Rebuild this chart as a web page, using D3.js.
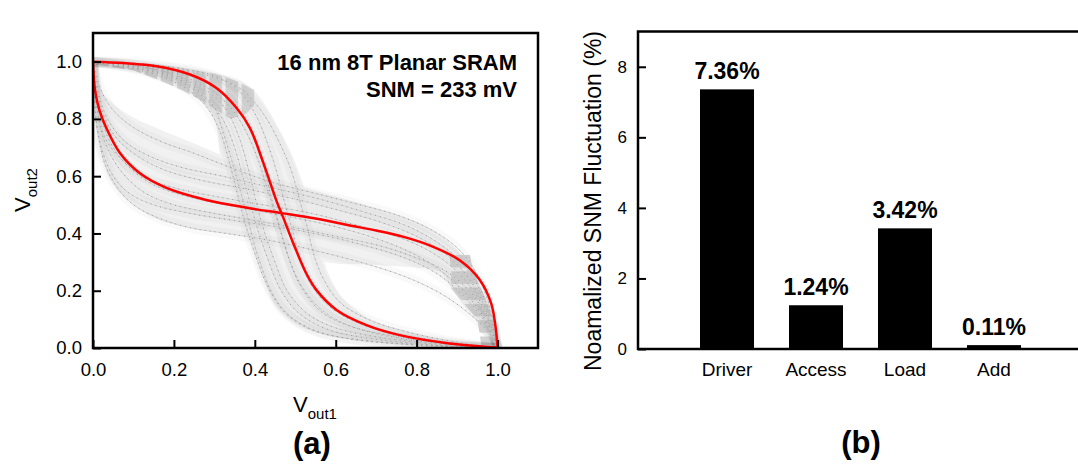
<!DOCTYPE html>
<html>
<head>
<meta charset="utf-8">
<script src="https://cdn.jsdelivr.net/npm/d3@7"></script>
<style>
  body { margin: 0; background: #fff; }
  svg text { font-family: "Liberation Sans", Arial, sans-serif; fill: #000; }
</style>
</head>
<body>
<svg id="fig" width="1078" height="466"></svg>
<script>
// ---- panel (a): butterfly curves, [Vout1, Vout2] ----
const axisTicksA = [0, 0.2, 0.4, 0.6, 0.8, 1.0];

// nominal curves (red)
const nominalA = [[0,1],[0.075,0.995],[0.157,0.984],[0.24,0.955],[0.305,0.908],[0.355,0.838],[0.388,0.768],
  [0.42,0.651],[0.454,0.512],[0.466,0.471],[0.495,0.366],[0.527,0.261],[0.552,0.203],[0.602,0.133],
  [0.676,0.08],[0.758,0.045],[0.881,0.016],[0.993,0.002],[1,0]];
const nominalB = [[0,1],[0.005,0.9],[0.016,0.83],[0.034,0.765],[0.067,0.68],[0.116,0.61],[0.18,0.56],
  [0.28,0.517],[0.388,0.488],[0.466,0.471],[0.55,0.452],[0.635,0.428],[0.7,0.41],[0.768,0.388],
  [0.838,0.355],[0.908,0.305],[0.955,0.24],[0.984,0.157],[0.995,0.075],[1,0]];

// spread of the Monte Carlo runs (grey cloud edges)
const spreadARight = [[0,1],[0.1,0.997],[0.2,0.985],[0.3,0.96],[0.37,0.93],[0.41,0.88],[0.45,0.79],[0.49,0.68],
  [0.515,0.59],[0.535,0.5],[0.55,0.41],[0.565,0.33],[0.585,0.25],[0.62,0.17],[0.68,0.105],[0.77,0.06],[0.88,0.022],[1,0]];
const spreadALeft = [[0,1],[0.1,0.97],[0.18,0.925],[0.26,0.87],[0.3,0.8],[0.314,0.675],[0.33,0.58],[0.35,0.5],
  [0.37,0.44],[0.385,0.4],[0.4,0.33],[0.42,0.25],[0.45,0.15],[0.5,0.085],[0.56,0.05],[0.65,0.028],[0.8,0.01],[1,0]];
const spreadBUpper = [[0,1],[0.02,0.9],[0.075,0.826],[0.157,0.768],[0.24,0.72],[0.314,0.675],[0.4,0.62],[0.5,0.57],
  [0.6,0.53],[0.7,0.49],[0.765,0.46],[0.83,0.42],[0.88,0.37],[0.92,0.31],[0.95,0.24],[0.975,0.15],[0.993,0.06],[1,0]];
const spreadBLower = [[0,1],[0.004,0.85],[0.012,0.74],[0.03,0.63],[0.06,0.55],[0.1,0.5],[0.15,0.455],[0.24,0.418],
  [0.33,0.4],[0.42,0.38],[0.5,0.35],[0.577,0.3],[0.7,0.29],[0.8,0.28],[0.86,0.265],[0.885,0.21],[0.915,0.15],
  [0.945,0.1],[0.965,0.045],[1,0]];

// dense striped parts of the cloud
const denseA = [[0.005,1.0],[0.1,0.996],[0.2,0.982],[0.3,0.958],[0.36,0.93],[0.4,0.9],[0.4,0.85],[0.38,0.82],
  [0.34,0.8],[0.3,0.835],[0.26,0.87],[0.22,0.9],[0.18,0.925],[0.1,0.97],[0.005,0.99]];
const denseB = [[0.88,0.335],[0.93,0.335],[0.94,0.27],[0.958,0.21],[0.978,0.15],[0.988,0.1],[0.995,0.04],
  [0.995,0.01],[0.96,0.01],[0.95,0.1],[0.92,0.15],[0.885,0.21],[0.886,0.267]];

// a few individual runs
const runsA = [
  [[0,1],[0.1,0.975],[0.2,0.93],[0.27,0.86],[0.31,0.77],[0.335,0.66],[0.355,0.55],[0.375,0.44],[0.4,0.33],[0.43,0.22],[0.47,0.13],[0.53,0.07],[0.62,0.035],[0.8,0.01],[1,0]],
  [[0,1],[0.1,0.985],[0.2,0.95],[0.28,0.9],[0.33,0.83],[0.36,0.74],[0.385,0.62],[0.405,0.5],[0.425,0.4],[0.45,0.3],[0.48,0.2],[0.53,0.12],[0.6,0.07],[0.72,0.035],[0.88,0.01],[1,0]],
  [[0,1],[0.1,0.99],[0.2,0.965],[0.29,0.92],[0.35,0.85],[0.39,0.76],[0.42,0.64],[0.44,0.53],[0.46,0.43],[0.48,0.33],[0.51,0.23],[0.56,0.14],[0.63,0.08],[0.75,0.04],[0.9,0.012],[1,0]],
  [[0,0.995],[0.1,0.99],[0.2,0.975],[0.3,0.945],[0.37,0.9],[0.42,0.82],[0.46,0.72],[0.49,0.62],[0.51,0.52],[0.53,0.42],[0.545,0.33],[0.57,0.24],[0.61,0.16],[0.68,0.1],[0.78,0.055],[0.9,0.02],[1,0]],
  [[0,1],[0.1,0.99],[0.2,0.96],[0.28,0.91],[0.34,0.84],[0.38,0.75],[0.41,0.65],[0.43,0.56],[0.45,0.47],[0.47,0.38],[0.49,0.29],[0.52,0.2],[0.57,0.12],[0.66,0.065],[0.8,0.025],[1,0]],
  [[0,1],[0.1,0.98],[0.2,0.94],[0.27,0.88],[0.32,0.8],[0.35,0.7],[0.37,0.6],[0.39,0.5],[0.41,0.4],[0.435,0.3],[0.465,0.2],[0.51,0.12],[0.58,0.065],[0.7,0.03],[0.85,0.01],[1,0]],
  [[0,1],[0.1,0.995],[0.2,0.98],[0.3,0.95],[0.36,0.9],[0.4,0.82],[0.43,0.72],[0.455,0.61],[0.475,0.5],[0.495,0.4],[0.51,0.32],[0.535,0.23],[0.58,0.15],[0.65,0.09],[0.77,0.045],[0.9,0.015],[1,0]],
  [[0,1],[0.1,0.98],[0.2,0.945],[0.26,0.9],[0.3,0.84],[0.32,0.76],[0.34,0.67],[0.36,0.57],[0.38,0.47],[0.395,0.38],[0.415,0.29],[0.44,0.2],[0.48,0.12],[0.55,0.06],[0.68,0.025],[1,0]]
];
const runsB = [
  [[0,1],[0.005,0.85],[0.012,0.75],[0.03,0.64],[0.06,0.56],[0.1,0.5],[0.16,0.455],[0.24,0.42],[0.33,0.4],[0.44,0.375],[0.55,0.34],[0.66,0.3],[0.77,0.25],[0.86,0.19],[0.93,0.12],[0.98,0.05],[1,0]],
  [[0,1],[0.01,0.87],[0.025,0.78],[0.05,0.7],[0.09,0.63],[0.15,0.57],[0.23,0.53],[0.33,0.5],[0.44,0.47],[0.55,0.44],[0.66,0.4],[0.76,0.35],[0.84,0.29],[0.9,0.22],[0.95,0.14],[0.985,0.06],[1,0]],
  [[0,1],[0.02,0.9],[0.05,0.83],[0.1,0.77],[0.17,0.72],[0.25,0.68],[0.34,0.63],[0.44,0.58],[0.55,0.54],[0.66,0.5],[0.76,0.46],[0.84,0.41],[0.9,0.35],[0.94,0.28],[0.97,0.19],[0.99,0.09],[1,0]],
  [[0,1],[0.008,0.86],[0.02,0.76],[0.045,0.67],[0.08,0.6],[0.13,0.54],[0.2,0.5],[0.3,0.47],[0.4,0.445],[0.5,0.42],[0.6,0.39],[0.7,0.36],[0.79,0.32],[0.87,0.27],[0.93,0.2],[0.97,0.12],[0.99,0.05],[1,0]],
  [[0,1],[0.006,0.88],[0.015,0.8],[0.035,0.72],[0.07,0.66],[0.12,0.6],[0.2,0.56],[0.3,0.53],[0.42,0.5],[0.54,0.47],[0.65,0.43],[0.75,0.39],[0.83,0.34],[0.89,0.28],[0.94,0.2],[0.975,0.11],[1,0]],
  [[0,1],[0.01,0.9],[0.03,0.8],[0.06,0.73],[0.11,0.67],[0.18,0.62],[0.27,0.585],[0.38,0.555],[0.5,0.52],[0.61,0.48],[0.71,0.44],[0.8,0.39],[0.87,0.33],[0.92,0.26],[0.96,0.17],[0.985,0.08],[1,0]],
  [[0,1],[0.004,0.86],[0.01,0.77],[0.025,0.68],[0.05,0.6],[0.09,0.54],[0.15,0.5],[0.24,0.47],[0.35,0.445],[0.47,0.42],[0.58,0.39],[0.68,0.355],[0.77,0.315],[0.85,0.26],[0.91,0.19],[0.96,0.11],[0.99,0.04],[1,0]],
  [[0,1],[0.015,0.88],[0.04,0.79],[0.08,0.72],[0.14,0.67],[0.22,0.63],[0.32,0.6],[0.44,0.56],[0.56,0.52],[0.67,0.475],[0.77,0.43],[0.85,0.37],[0.91,0.3],[0.95,0.22],[0.98,0.13],[0.995,0.05],[1,0]]
];

// ---- panel (b): bars ----
const parts = ["Driver", "Access", "Load", "Add"];
const snmFluct = [7.36, 1.24, 3.42, 0.11];
const snmLabels = ["7.36%", "1.24%", "3.42%", "0.11%"];
const axisTicksB = [0, 2, 4, 6, 8];

const svg = d3.select("#fig");
const defs = svg.append("defs");

// ================= panel (a) =================
const x = d3.scaleLinear().domain([0, 1.1]).range([93, 538]);
const y = d3.scaleLinear().domain([0, 1.1]).range([348, 33]);

defs.append("clipPath").attr("id", "clipA")
  .append("rect").attr("x", 93).attr("y", 33).attr("width", 445).attr("height", 315);

// stripes like the dense bundles in the original plot
let pv = defs.append("pattern").attr("id", "stripeV").attr("patternUnits", "userSpaceOnUse")
  .attr("x", 96).attr("y", 0).attr("width", 16.2).attr("height", 20);
pv.append("rect").attr("width", 12.5).attr("height", 20).attr("fill", "#d3d3d3");
let ph = defs.append("pattern").attr("id", "stripeH").attr("patternUnits", "userSpaceOnUse")
  .attr("x", 0).attr("y", 255).attr("width", 20).attr("height", 16.3);
ph.append("rect").attr("width", 20).attr("height", 12.5).attr("fill", "#d3d3d3");

const line = d3.line().x(d => x(d[0])).y(d => y(d[1])).curve(d3.curveCatmullRom.alpha(0.5));
const poly = d3.line().x(d => x(d[0])).y(d => y(d[1])).curve(d3.curveCatmullRomClosed.alpha(0.5));
const flat = d3.line().x(d => x(d[0])).y(d => y(d[1])).curve(d3.curveLinearClosed);

const plotA = svg.append("g").attr("clip-path", "url(#clipA)");

// grey cloud outline fills
plotA.append("path")
  .attr("d", poly(spreadARight.concat(spreadALeft.slice(1, -1).reverse())))
  .attr("fill", "#f1f1f1");
plotA.append("path")
  .attr("d", poly(spreadBUpper.concat(spreadBLower.slice(1, -1).reverse())))
  .attr("fill", "#f1f1f1");

// denser part, a bit darker
plotA.append("path").attr("d", flat(denseA)).attr("fill", "url(#stripeV)");
plotA.append("path").attr("d", flat(denseB)).attr("fill", "url(#stripeH)");

// individual runs: soft wide band + thin line + sparse dots
const runs = runsA.concat(runsB);
plotA.selectAll("path.halo")
  .data(runs)
  .enter()
  .append("path")
    .attr("class", "halo")
    .attr("d", line)
    .attr("fill", "none")
    .attr("stroke", "#000")
    .attr("stroke-opacity", 0.025)
    .attr("stroke-width", 10);
plotA.selectAll("path.run")
  .data(runs)
  .enter()
  .append("path")
    .attr("class", "run")
    .attr("d", line)
    .attr("fill", "none")
    .attr("stroke", "#d0d0d0")
    .attr("stroke-width", 0.8);
plotA.selectAll("path.dots")
  .data(runs)
  .enter()
  .append("path")
    .attr("class", "dots")
    .attr("d", line)
    .attr("fill", "none")
    .attr("stroke", "#9a9a9a")
    .attr("stroke-width", 1)
    .attr("stroke-dasharray", "1,4");

// nominal curves
plotA.selectAll("path.nom")
  .data([nominalA, nominalB])
  .enter()
  .append("path")
    .attr("class", "nom")
    .attr("d", line)
    .attr("fill", "none")
    .attr("stroke", "#ff0000")
    .attr("stroke-width", 2.5);

// frame
svg.append("rect")
  .attr("x", 93).attr("y", 33).attr("width", 445).attr("height", 315)
  .attr("fill", "none").attr("stroke", "#000").attr("stroke-width", 2.5);

const fmt = d3.format(".1f");
const axA = svg.append("g").attr("transform", "translate(0,348)")
  .call(d3.axisBottom(x).tickValues(axisTicksA).tickFormat(fmt).tickSizeInner(-8).tickSizeOuter(0).tickPadding(15));
const ayA = svg.append("g").attr("transform", "translate(93,0)")
  .call(d3.axisLeft(y).tickValues(axisTicksA).tickFormat(fmt).tickSizeInner(-8).tickSizeOuter(0).tickPadding(11));
[axA, ayA].forEach(g => {
  g.select(".domain").remove();
  g.selectAll(".tick line").attr("stroke", "#000").attr("stroke-width", 2);
  g.selectAll(".tick text").style("font-size", "18.5px").attr("fill", "#000");
});

// annotation
svg.append("text").attr("x", 517).attr("y", 70).attr("text-anchor", "end")
  .style("font-size", "22px").style("font-weight", "bold").text("16 nm 8T Planar SRAM");
svg.append("text").attr("x", 517).attr("y", 97).attr("text-anchor", "end")
  .style("font-size", "22px").style("font-weight", "bold").text("SNM = 233 mV");

// axis titles
let xt = svg.append("text").attr("x", 315).attr("y", 412).attr("text-anchor", "middle");
xt.append("tspan").style("font-size", "22px").text("V");
xt.append("tspan").attr("dy", 7).style("font-size", "15px").text("out1");

let yt = svg.append("text").attr("transform", "translate(30,190) rotate(-90)").attr("text-anchor", "middle");
yt.append("tspan").style("font-size", "22px").text("V");
yt.append("tspan").attr("dy", 7).style("font-size", "15px").text("out2");

svg.append("text").attr("x", 312).attr("y", 454).attr("text-anchor", "middle")
  .style("font-size", "31px").style("font-weight", "bold").text("(a)");

// ================= panel (b) =================
const xb = d3.scaleBand().domain(parts).range([682.5, 1038.5]).paddingInner(0.393).paddingOuter(0.1966);
const yb = d3.scaleLinear().domain([0, 9]).range([349, 31.5]);

svg.append("g")
  .selectAll("rect")
  .data(d3.range(parts.length))
  .enter()
  .append("rect")
    .attr("x", d => xb(parts[d]))
    .attr("y", d => yb(snmFluct[d]))
    .attr("width", xb.bandwidth())
    .attr("height", d => yb(0) - yb(snmFluct[d]))
    .attr("fill", "#000");

svg.append("g")
  .selectAll("text")
  .data(d3.range(parts.length))
  .enter()
  .append("text")
    .attr("x", d => xb(parts[d]) + xb.bandwidth() / 2)
    .attr("y", d => yb(snmFluct[d]) - 10)
    .attr("text-anchor", "middle")
    .style("font-size", "23px")
    .style("font-weight", "bold")
    .text(d => snmLabels[d]);

// frame: left, top, bottom (right side runs past the page edge)
svg.append("rect")
  .attr("x", 638).attr("y", 31.5).attr("width", 460).attr("height", 317.5)
  .attr("fill", "none").attr("stroke", "#000").attr("stroke-width", 2.5);

const ayB = svg.append("g").attr("transform", "translate(638,0)")
  .call(d3.axisLeft(yb).tickValues(axisTicksB).tickSizeInner(-8).tickSizeOuter(0).tickPadding(11));
ayB.select(".domain").remove();
ayB.selectAll(".tick line").attr("stroke", "#000").attr("stroke-width", 2);
ayB.selectAll(".tick text").style("font-size", "17px").attr("fill", "#000");

const axB = svg.append("g").attr("transform", "translate(0,349)")
  .call(d3.axisBottom(xb).tickSize(0).tickPadding(14));
axB.select(".domain").remove();
axB.selectAll(".tick text").style("font-size", "19px").attr("fill", "#000");

svg.append("text").attr("transform", "translate(601,201) rotate(-90)").attr("text-anchor", "middle")
  .style("font-size", "23px").text("Noamalized SNM Fluctuation (%)");

svg.append("text").attr("x", 861).attr("y", 453).attr("text-anchor", "middle")
  .style("font-size", "31px").style("font-weight", "bold").text("(b)");
</script>
</body>
</html>
